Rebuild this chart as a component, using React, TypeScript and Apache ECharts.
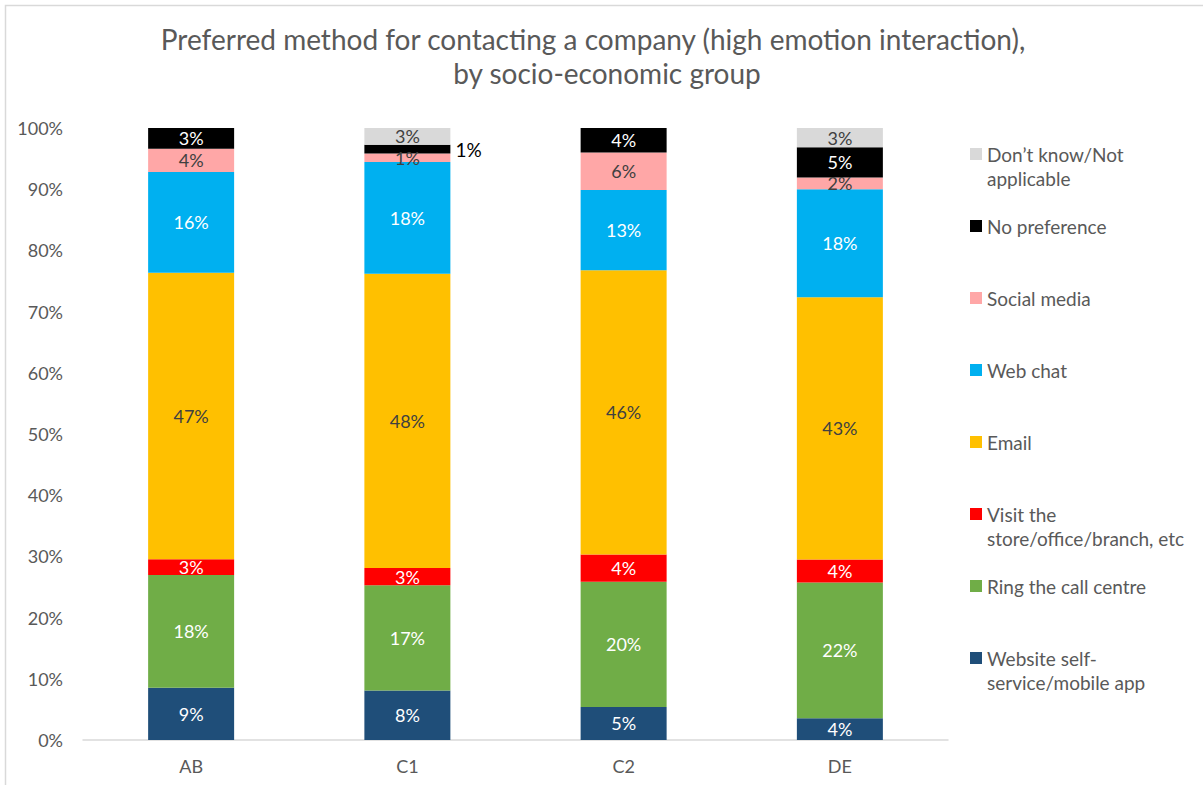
import React, { useEffect, useRef } from "react";
import * as echarts from "echarts";

const categories = ["AB", "C1", "C2", "DE"];
const websiteSelfService = [8.55, 8.1, 5.4, 3.55];
const ringCallCentre = [18.4, 17.2, 20.45, 22.2];
const visitStore = [2.6, 2.8, 4.45, 3.75];
const email = [46.8, 48.1, 46.45, 42.85];
const webChat = [16.45, 18.25, 13.1, 17.65];
const socialMedia = [3.8, 1.4, 6.15, 1.9];
const noPreference = [3.4, 1.4, 4.0, 4.95];
const dontKnow = [0, 2.75, 0, 3.15];
const yTicks = [0, 10, 20, 30, 40, 50, 60, 70, 80, 90, 100];

const seriesDefs = [
  { name: "Website self-service/mobile app", data: websiteSelfService, color: "#1F4E79", label: "#FFFFFF", legend: "\nWebsite self-\nservice/mobile app" },
  { name: "Ring the call centre", data: ringCallCentre, color: "#70AD47", label: "#FFFFFF", legend: "\nRing the call centre\n" },
  { name: "Visit the store/office/branch, etc", data: visitStore, color: "#FF0000", label: "#FFFFFF", legend: "\nVisit the\nstore/office/branch, etc" },
  { name: "Email", data: email, color: "#FFC000", label: "#404040", legend: "\nEmail\n" },
  { name: "Web chat", data: webChat, color: "#00B0F0", label: "#FFFFFF", legend: "\nWeb chat\n" },
  { name: "Social media", data: socialMedia, color: "#FFA7A7", label: "#404040", legend: "\nSocial media\n" },
  { name: "No preference", data: noPreference, color: "#000000", label: "#FFFFFF", legend: "\nNo preference\n" },
  { name: "Don\u2019t know/Not applicable", data: dontKnow, color: "#D9D9D9", label: "#404040", legend: "\nDon\u2019t know/Not\napplicable" },
];

const FONT = "Lato, 'Open Sans', sans-serif";

export default function App() {
  const ref = useRef<HTMLDivElement>(null);
  useEffect(() => {
    if (!ref.current) return;
    const chart = echarts.init(ref.current, null, { renderer: "svg" });
    const legendMap: Record<string, string> = {};
    seriesDefs.forEach((s) => (legendMap[s.name] = s.legend));
    const series = seriesDefs.map((s) => ({
      name: s.name,
      type: "bar",
      stack: "total",
      barWidth: 86,
      itemStyle: { color: s.color },
      label: {
        show: true,
        position: "inside",
        color: s.label,
        fontSize: 18,
        fontFamily: FONT,
        formatter: (p: any) => (p.value > 0 ? Math.round(p.value) + "%" : ""),
      },
      data: s.data.map((v, i) =>
        s.name === "No preference" && categories[i] === "C1"
          ? { value: v, label: { position: "right", distance: 5, color: "#000000", fontSize: 19 } }
          : v
      ),
    }));
    chart.setOption({
      animation: false,
      backgroundColor: "#FFFFFF",
      textStyle: { fontFamily: FONT },
      title: [
        {
          text: "Preferred method for contacting a company (high emotion interaction),",
          left: 593,
          top: 25,
          padding: 0,
          textAlign: "center",
          textStyle: { fontSize: 28, fontWeight: "normal", color: "#595959", fontFamily: FONT },
        },
        {
          text: "by socio-economic group",
          left: 607,
          top: 59,
          padding: 0,
          textAlign: "center",
          textStyle: { fontSize: 28, fontWeight: "normal", color: "#595959", fontFamily: FONT },
        },
      ],
      legend: {
        orient: "vertical",
        left: 970,
        top: 118,
        padding: 0,
        itemGap: 0,
        itemWidth: 12,
        itemHeight: 12,
        icon: "rect",
        selectedMode: false,
        data: seriesDefs.map((s) => s.name).reverse(),
        formatter: (name: string) => legendMap[name] || name,
        textStyle: { fontSize: 19, color: "#595959", lineHeight: 24, fontFamily: FONT },
      },
      grid: { left: 83, right: 255, top: 128, bottom: 45, containLabel: false },
      xAxis: {
        type: "category",
        data: categories,
        axisLine: { lineStyle: { color: "#D9D9D9", width: 1.5 } },
        axisTick: { show: false },
        axisLabel: { color: "#595959", fontSize: 18, margin: 17, fontFamily: FONT },
      },
      yAxis: {
        type: "value",
        min: yTicks[0],
        max: yTicks[yTicks.length - 1],
        interval: 10,
        axisLine: { show: false },
        axisTick: { show: false },
        splitLine: { show: false },
        axisLabel: { color: "#595959", fontSize: 18, margin: 20, formatter: "{value}%", fontFamily: FONT },
      },
      graphic: [
        {
          type: "rect",
          shape: { x: 5.5, y: 5.5, width: 1210, height: 790 },
          style: { fill: "none", stroke: "#D9D9D9", lineWidth: 1.5 },
          silent: true,
        },
      ],
      series,
    });
    return () => chart.dispose();
  }, []);
  return (
    <div
      ref={ref}
      style={{ position: "absolute", left: 0, top: 0, width: 1203, height: 785 }}
    />
  );
}
